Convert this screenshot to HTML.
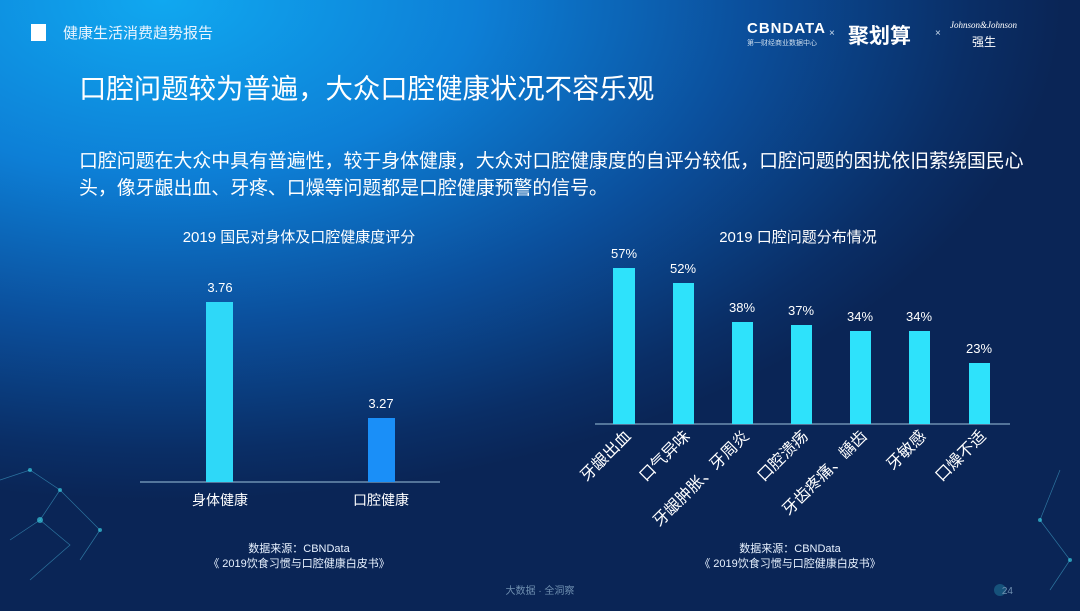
<!DOCTYPE html>
<html><head><meta charset="utf-8"><style>
html,body{margin:0;padding:0}
body{width:1080px;height:611px;overflow:hidden;position:relative;font-family:"Liberation Sans","Noto Sans CJK SC",sans-serif;
background:radial-gradient(ellipse 900px 500px at 15% 0%,#10a8f0 0%,#0d7fd6 35%,#0b4f9c 65%,#0a2e66 90%,#0a2556 100%);color:#fff}
.t{position:absolute;white-space:nowrap}
</style></head><body>
<div style="position:absolute;left:31px;top:24px;width:15px;height:17px;background:#fff"></div>
<div class="t" style="left:63px;top:22px;font-size:15px;color:#e8f4ff">健康生活消费趋势报告</div>
<div class="t" style="left:747px;top:20px;font-size:15px;font-weight:bold;letter-spacing:1px">CBNDATA</div>
<div class="t" style="left:747px;top:38px;font-size:7px;color:#cde">第一财经商业数据中心</div>
<div class="t" style="left:829px;top:28px;font-size:10px;color:#cde">×</div>
<div class="t" style="left:848px;top:20px;font-size:21px;font-weight:bold">聚划算</div>
<div class="t" style="left:935px;top:28px;font-size:10px;color:#cde">×</div>
<div class="t" style="left:950px;top:20px;font-size:9px;font-style:italic;font-family:'Liberation Serif',serif">Johnson&amp;Johnson</div>
<div class="t" style="left:972px;top:33px;font-size:12px">强生</div>
<div class="t" style="left:79px;top:66px;font-size:27.4px">口腔问题较为普遍，大众口腔健康状况不容乐观</div>
<div class="t" style="left:79px;top:148px;font-size:18.9px;line-height:27px;white-space:normal;width:965px">口腔问题在大众中具有普遍性，较于身体健康，大众对口腔健康度的自评分较低，口腔问题的困扰依旧萦绕国民心头，像牙龈出血、牙疼、口燥等问题都是口腔健康预警的信号。</div>
<svg width="1080" height="611" style="position:absolute;left:0;top:0" font-family="Liberation Sans,Noto Sans CJK SC,sans-serif" fill="#fff">
<g stroke="#4fc3e8" stroke-width="0.7" opacity="0.5" fill="none">
<path d="M0 480 L30 470 L60 490 L40 520 L10 540 M60 490 L100 530 L80 560 M40 520 L70 545 L30 580 M1040 520 L1070 560 L1050 590 M1060 470 L1040 520"/>
</g>
<g fill="#3ee0f0" opacity="0.6"><circle cx="30" cy="470" r="2"/><circle cx="60" cy="490" r="2"/><circle cx="40" cy="520" r="3"/><circle cx="100" cy="530" r="2"/><circle cx="1040" cy="520" r="2"/><circle cx="1070" cy="560" r="2"/><circle cx="1000" cy="590" r="6" opacity="0.4"/></g>
<text x="299" y="242" font-size="15" text-anchor="middle">2019 国民对身体及口腔健康度评分</text>
<line x1="140" y1="482" x2="440" y2="482" stroke="#9fc4dc" stroke-width="1"/>
<rect x="206" y="302" width="27" height="180" fill="#2ed8f8"/>
<rect x="368" y="418" width="27" height="64" fill="#1a8ff8"/>
<text x="220" y="292" font-size="13" text-anchor="middle">3.76</text>
<text x="381" y="408" font-size="13" text-anchor="middle">3.27</text>
<text x="220" y="505" font-size="14" text-anchor="middle">身体健康</text>
<text x="381" y="505" font-size="14" text-anchor="middle">口腔健康</text>
<text x="798" y="242" font-size="15" text-anchor="middle">2019 口腔问题分布情况</text>
<line x1="595" y1="424" x2="1010" y2="424" stroke="#9fc4dc" stroke-width="1"/>
<g fill="#2ee2fb">
<rect x="613" y="268" width="22" height="156"/><rect x="673" y="283" width="21" height="141"/>
<rect x="732" y="322" width="21" height="102"/><rect x="791" y="325" width="21" height="99"/>
<rect x="850" y="331" width="21" height="93"/><rect x="909" y="331" width="21" height="93"/>
<rect x="969" y="363" width="21" height="61"/></g>
<g font-size="13" text-anchor="middle">
<text x="624" y="258">57%</text><text x="683" y="273">52%</text><text x="742" y="312">38%</text>
<text x="801" y="315">37%</text><text x="860" y="321">34%</text><text x="919" y="321">34%</text><text x="979" y="353">23%</text></g>
<g font-size="16" text-anchor="end">
<text transform="translate(632,437) rotate(-45)">牙龈出血</text>
<text transform="translate(691,437) rotate(-45)">口气异味</text>
<text transform="translate(750,437) rotate(-45)">牙龈肿胀、牙周炎</text>
<text transform="translate(809,437) rotate(-45)">口腔溃疡</text>
<text transform="translate(868,437) rotate(-45)">牙齿疼痛、龋齿</text>
<text transform="translate(927,437) rotate(-45)">牙敏感</text>
<text transform="translate(987,437) rotate(-45)">口燥不适</text></g>
<g font-size="11" text-anchor="middle" fill="#e8f2ff">
<text x="299" y="552">数据来源：CBNData</text><text x="299" y="567">《 2019饮食习惯与口腔健康白皮书》</text>
<text x="790" y="552">数据来源：CBNData</text><text x="790" y="567">《 2019饮食习惯与口腔健康白皮书》</text></g>
<text x="540" y="594" font-size="10" text-anchor="middle" fill="#6f8fb0">大数据 · 全洞察</text>
<text x="1013" y="594" font-size="10" text-anchor="end" fill="#6f8fb0">24</text>
</svg>
</body></html>
